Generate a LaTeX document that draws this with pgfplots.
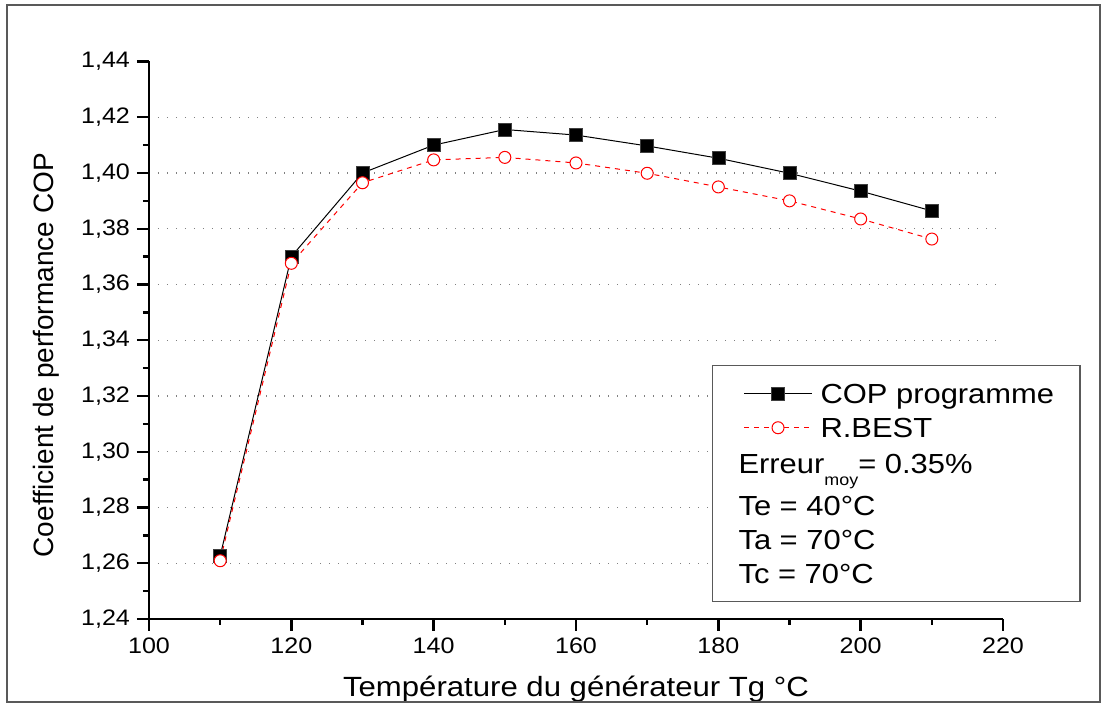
\documentclass[border=0pt]{standalone}
\usepackage{fontspec}
\setmainfont[FakeStretch=1.12]{Liberation Sans}
\newfontfamily\plainfont{Liberation Sans}
\usepackage{pgfplots}
\pgfplotsset{compat=1.18}
\begin{document}
\begin{tikzpicture}
\useasboundingbox (-74.5pt,-42.5pt) rectangle (476.5pt,309.5pt);
\begin{axis}[
  scale only axis, width=427pt, height=278.75pt,
  xmin=100, xmax=220, ymin=1.24, ymax=1.44,
  axis x line*=bottom, axis y line*=left,
  axis line style={line width=1.3pt, black},
  xtick={100,120,140,160,180,200,220},
  ytick={1.24,1.26,1.28,1.30,1.32,1.34,1.36,1.38,1.40,1.42},
  extra y ticks={1.44}, extra y tick style={grid=none},
  minor x tick num=1, minor y tick num=1,
  tick align=outside, major tick length=6pt, minor tick length=3pt,
  every tick/.style={line width=1.2pt, black},
  tick label style={font=\fontsize{11.2}{13}\selectfont},
  x tick label style={/pgf/number format/assume math mode=true},
  y tick label style={/pgf/number format/.cd, fixed, fixed zerofill, precision=2, use comma, assume math mode=true},
  ymajorgrids,
  grid style={gray, line width=0.6pt, dash pattern=on 0.6pt off 3.9pt},
  xlabel={Température du générateur Tg °C},
  ylabel={{\plainfont Coefficient de performance COP}},
  xlabel style={font=\fontsize{13.9}{16}\selectfont, at={(axis description cs:0.5,0)}, anchor=base, yshift=-39pt},
  ylabel style={font=\fontsize{14}{16}\selectfont, at={(axis description cs:0,0.5)}, anchor=center, xshift=-7.5pt, yshift=51.5pt},
  legend style={at={(axis description cs:0.659,0.4556)}, anchor=north west,
    draw=gray!70!black, line width=0.75pt, font=\fontsize{13.8}{16.5}\selectfont,
    inner xsep=15.5pt, inner ysep=5.5pt, row sep=0pt,
    nodes={text height=12pt, text depth=2.5pt, inner ysep=1.25pt}},
  legend cell align=left,
  legend image code/.code={\draw[mark repeat=2,mark phase=2] plot coordinates {(0pt,0pt) (17pt,0pt) (34pt,0pt)};},
]
\addplot[black, line width=0.5pt, mark=square*, mark size=3.25pt,
  mark options={solid, fill=black, draw=gray!50!black, line width=0.3pt}]
  coordinates {(110,1.2626) (120,1.3700) (130,1.4000) (140,1.4100) (150,1.4156) (160,1.4136) (170,1.4097) (180,1.4053) (190,1.3999) (200,1.3935) (210,1.3864)};
\addlegendentry{\hspace*{2pt}COP programme\hspace*{-4.5pt}}
\addplot[red, line width=0.5pt, dash pattern=on 2.5pt off 2.5pt, mark=*, mark size=3pt,
  mark options={solid, fill=white, draw=red, line width=0.5pt}]
  coordinates {(110,1.2609) (120,1.3676) (130,1.3965) (140,1.4047) (150,1.4056) (160,1.4036) (170,1.3999) (180,1.3950) (190,1.3900) (200,1.3835) (210,1.3763)};
\addlegendentry{\hspace*{2pt}R.BEST}
\addlegendimage{empty legend}
\addlegendentry[text height=13pt, text depth=6.5pt]{\hspace*{-39pt}Erreur\raisebox{-6pt}{\fontsize{8}{8}\selectfont moy}= 0.35\%}
\addlegendimage{empty legend}
\addlegendentry{\hspace*{-39pt}Te = 40°C}
\addlegendimage{empty legend}
\addlegendentry{\hspace*{-39pt}Ta = 70°C}
\addlegendimage{empty legend}
\addlegendentry{\hspace*{-39pt}Tc = 70°C}
\end{axis}
\draw[gray!70!black, line width=0.8pt] (-71pt,-41.5pt) rectangle (475.5pt,307pt);
\end{tikzpicture}
\end{document}
